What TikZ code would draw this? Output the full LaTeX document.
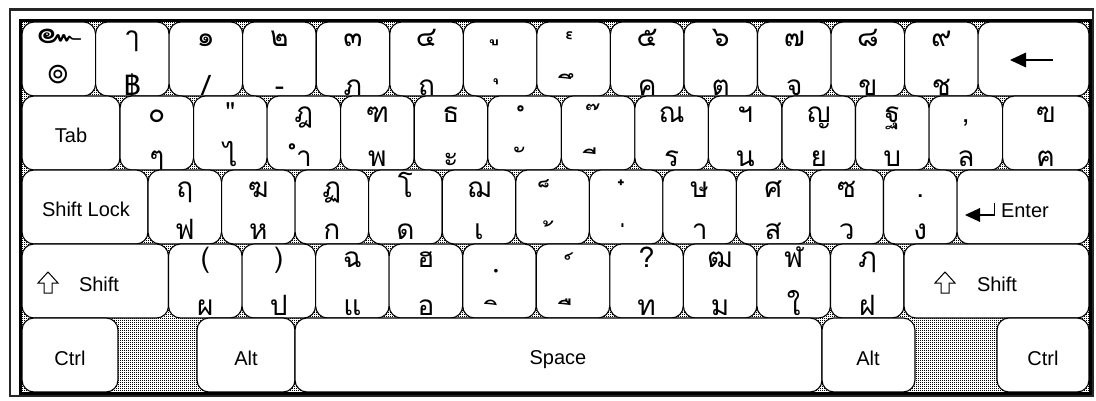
\documentclass[tikz,border=0pt]{standalone}
\usepackage{fontspec}
\setmainfont{Liberation Sans}
\newfontfamily\thai[Script=Thai]{Loma}
\usetikzlibrary{patterns.meta}
\tikzdeclarepattern{
  name=kbdots,
  type=uncolored,
  bounding box={(0pt,0pt) and (2pt,2pt)},
  tile size={(2pt,2pt)},
  code={\pgfpathrectangle{\pgfpoint{0pt}{0pt}}{\pgfpoint{1.2pt}{1.2pt}}\pgfusepath{fill}}
}
\tikzset{
  kbkey/.style={rectangle, draw=black, fill=white, line width=1.1pt, rounded corners=12pt,
    minimum height=74pt, inner sep=0pt, outer sep=0pt},
  thl/.style={anchor=base, inner sep=0pt, outer sep=0pt, font=\thai\fontsize{28}{28}\selectfont},
  lat/.style={anchor=base, inner sep=0pt, outer sep=0pt, font=\fontsize{20}{24}\selectfont},
  icon/.style={line width=2pt, line join=miter},
}
\def\U{73.55}
\newcommand\kb[8]{%
  \pgfmathsetmacro\kx{#2+(#3+0.5)*\U}%
  \pgfmathsetmacro\ky{22+74*#4}%
  \node[kbkey, minimum width=\U pt] (#1) at (\kx,\ky+37) {};
  \node[thl] (#1t) at (\kx,\ky+#6) {#5};
  \node[thl] (#1b) at (\kx,\ky+#8) {#7};
}
\newcommand\sk[4]{%
  \pgfmathsetmacro\kx{(#2+#3)/2}%
  \pgfmathsetmacro\kw{#3-#2}%
  \pgfmathsetmacro\ky{22+74*#4+37}%
  \node[kbkey, minimum width=\kw pt] (#1) at (\kx,\ky) {};
}
\begin{document}
\begin{tikzpicture}[x=1pt,y=-1pt]
\useasboundingbox (0,0) rectangle (1096,401);
% outer frame
\draw[line width=2.2pt, black!85] (10,9.5) rectangle (1093,396);
% textured background
\fill[white] (22,22) rectangle (1089,392);
\fill[pattern={kbdots}, pattern color=black] (22,22) rectangle (1089,392);

% ---- Row 0
\node[kbkey, minimum width=\U pt] (r0k0) at (58.8,59) {};
\node[thl, font=\thai\fontsize{30}{30}\selectfont] (r0k0t) at (58.8,44) {\scalebox{1.3}[1]{๛}};
\node[thl, font=\thai\fontsize{36}{36}\selectfont] (r0k0b) at (58.8,83.5) {๏};
\kb{r0k1}{22}{1}{0}{ๅ}{25}{฿}{74}
\kb{r0k2}{22}{2}{0}{๑}{25}{/}{74}
\kb{r0k3}{22}{3}{0}{๒}{25}{-}{74}
\kb{r0k4}{22}{4}{0}{๓}{25}{ภ}{74}
\kb{r0k5}{22}{5}{0}{๔}{25}{ถ}{74}
\kb{r0k6}{22}{6}{0}{ู}{17}{ุ}{56}
\kb{r0k7}{22}{7}{0}{๎}{38}{ึ}{75}
\kb{r0k8}{22}{8}{0}{๕}{25}{ค}{74}
\kb{r0k9}{22}{9}{0}{๖}{25}{ต}{74}
\kb{r0k10}{22}{10}{0}{๗}{25}{จ}{74}
\kb{r0k11}{22}{11}{0}{๘}{25}{ข}{74}
\kb{r0k12}{22}{12}{0}{๙}{25}{ช}{74}
\sk{bksp}{978.15}{1089}{0}
\draw[icon] (1024,60) -- (1053,60);
\fill (1010,60) -- (1026,52.5) -- (1026,67.5) -- cycle;

% ---- Row 1
\sk{tab}{22}{120}{1}
\node[lat] (tabl) at (71,143) {Tab};
\kb{r1k0}{120}{0}{1}{๐}{27}{ๆ}{71}
\kb{r1k1}{120}{1}{1}{"}{27}{ไ}{71}
\kb{r1k2}{120}{2}{1}{ฎ}{27}{ำ}{71}
\kb{r1k3}{120}{3}{1}{ฑ}{27}{พ}{71}
\kb{r1k4}{120}{4}{1}{ธ}{27}{ะ}{71}
\kb{r1k5}{120}{5}{1}{ํ}{33}{ั}{74}
\kb{r1k6}{120}{6}{1}{๊}{38}{ี}{76}
\kb{r1k7}{120}{7}{1}{ณ}{27}{ร}{71}
\kb{r1k8}{120}{8}{1}{ฯ}{27}{น}{71}
\kb{r1k9}{120}{9}{1}{ญ}{27}{ย}{71}
\kb{r1k10}{120}{10}{1}{ฐ}{27}{บ}{71}
\kb{r1k11}{120}{11}{1}{,}{27}{ล}{71}
\sk{r1k12}{1002.6}{1089}{1}
\node[thl] (r1k12t) at (1045.8,123) {ฃ};
\node[thl] (r1k12b) at (1045.8,167) {ฅ};

% ---- Row 2
\sk{caps}{22}{148}{2}
\node[lat] (capsl) at (86,217) {Shift Lock};
\kb{r2k0}{148}{0}{2}{ฤ}{28}{ฟ}{70}
\kb{r2k1}{148}{1}{2}{ฆ}{28}{ห}{70}
\kb{r2k2}{148}{2}{2}{ฏ}{28}{ก}{70}
\kb{r2k3}{148}{3}{2}{โ}{28}{ด}{70}
\kb{r2k4}{148}{4}{2}{ฌ}{28}{เ}{70}
\kb{r2k5}{148}{5}{2}{็}{35}{้}{81}
\kb{r2k6}{148}{6}{2}{๋}{38}{่}{82}
\kb{r2k7}{148}{7}{2}{ษ}{28}{า}{70}
\kb{r2k8}{148}{8}{2}{ศ}{28}{ส}{70}
\kb{r2k9}{148}{9}{2}{ซ}{28}{ว}{70}
\kb{r2k10}{148}{10}{2}{.}{28}{ง}{70}
\sk{enter}{957.05}{1089}{2}
\fill (965,215) -- (980,208) -- (980,222) -- cycle;
\draw[line width=1.6pt] (979,215) -- (994.5,215) -- (994.5,203);
\node[lat, anchor=base west] (enterl) at (1001,218) {Enter};

% ---- Row 3
\sk{lshift}{22}{168.5}{3}
\draw[line width=1pt, line join=miter] (48,272) -- (58,283) -- (52,283) -- (52,293) -- (44,293) -- (44,283) -- (38,283) -- cycle;
\node[lat, anchor=base west] (lshiftl) at (79,291) {Shift};
\kb{r3k0}{168.5}{0}{3}{(}{23}{ผ}{71}
\kb{r3k1}{168.5}{1}{3}{)}{23}{ป}{71}
\kb{r3k2}{168.5}{2}{3}{ฉ}{23}{แ}{71}
\kb{r3k3}{168.5}{3}{3}{ฮ}{23}{อ}{71}
\kb{r3k4}{168.5}{4}{3}{ฺ}{24}{ิ}{78}
\kb{r3k5}{168.5}{5}{3}{์}{38}{ื}{78}
\kb{r3k6}{168.5}{6}{3}{?}{23}{ท}{71}
\kb{r3k7}{168.5}{7}{3}{ฒ}{23}{ม}{71}
\kb{r3k8}{168.5}{8}{3}{ฬ}{23}{ใ}{71}
\kb{r3k9}{168.5}{9}{3}{ฦ}{23}{ฝ}{71}
\sk{rshift}{904}{1089}{3}
\draw[line width=1pt, line join=miter] (945,272) -- (955,283) -- (949,283) -- (949,293) -- (941,293) -- (941,283) -- (935,283) -- cycle;
\node[lat, anchor=base west] (rshiftl) at (977,291) {Shift};

% ---- Row 4
\sk{lctrl}{22}{118}{4}
\sk{lalt}{197}{295}{4}
\sk{space}{295}{822}{4}
\sk{ralt}{822}{915}{4}
\sk{rctrl}{997}{1089}{4}
\node[lat] (lctrll) at (70,365) {Ctrl};
\node[lat] (laltl) at (246,365) {Alt};
\node[lat] (spacel) at (558,364) {Space};
\node[lat] (raltl) at (868,365) {Alt};
\node[lat] (rctrll) at (1043,365) {Ctrl};

% keyboard frame
\draw[line width=3.2pt] (20.4,20.4) rectangle (1090.2,393.2);
\end{tikzpicture}
\end{document}
